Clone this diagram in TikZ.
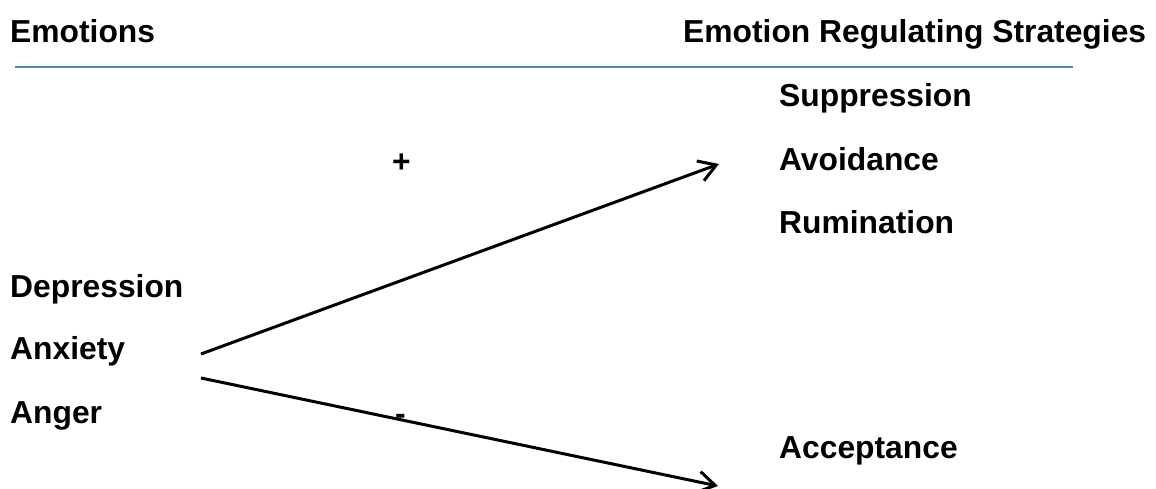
\documentclass[tikz,border=0pt]{standalone}
\usepackage{fontspec}
\setmainfont{Liberation Sans}
\usetikzlibrary{arrows.meta}
\definecolor{rulebl}{RGB}{79,129,189}

\begin{document}
\begin{tikzpicture}[x=1pt,y=-1pt,
	lbl/.style={anchor=base west,inner sep=0pt,font=\fontsize{31.8}{38}\selectfont\bfseries},
	arr/.style={line width=3pt,-{Straight Barb[length=17pt,width=21pt,line width=3pt]}}]
	\useasboundingbox (0,0) rectangle (1156,488);
	% headings
	\node[lbl] (emo) at (10,42) {Emotions};
	\node[lbl] (ers) at (683,42) {Emotion Regulating Strategies};
	\coordinate (rulel) at (15,67);
	\coordinate (ruler) at (1073,67);
	\draw[rulebl,line width=2pt] (rulel)--(ruler);
	% left column
	\node[lbl] (dep) at (10,297) {Depression};
	\node[lbl] (anx) at (10,359) {Anxiety};
	\node[lbl] (ang) at (10,423) {Anger};
	% right column
	\node[lbl] (sup) at (779,106) {Suppression};
	\node[lbl] (avo) at (779,170) {Avoidance};
	\node[lbl] (rum) at (779,233) {Rumination};
	\node[lbl] (acc) at (779,458) {Acceptance};
	% signs
	\node[lbl] (plus) at (392,172) {+};
	\node[lbl] (minus) at (395,424) {-};
	% arrows
	\coordinate (upstart) at (201,354);
	\coordinate (uptip) at (719,164);
	\coordinate (downstart) at (201,378);
	\coordinate (downtip) at (718,486);
	\draw[arr] (upstart)--(uptip);
	\draw[arr] (downstart)--(downtip);
	\end{tikzpicture}
\end{document}
